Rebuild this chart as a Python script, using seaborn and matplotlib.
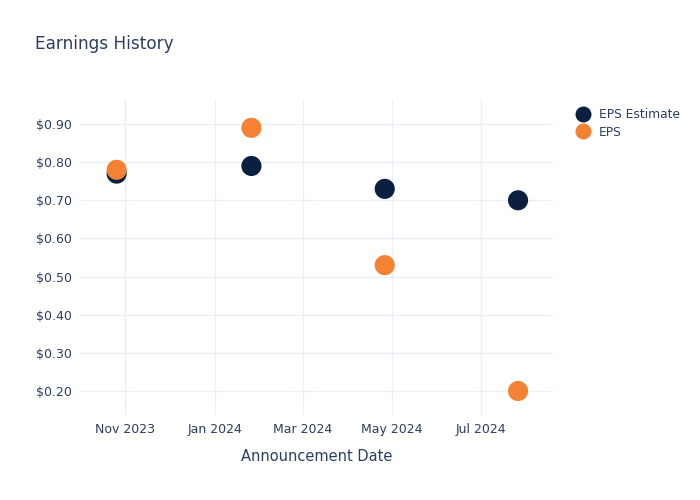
import matplotlib
matplotlib.use("Agg")
import matplotlib.pyplot as plt
import matplotlib.dates as mdates
from matplotlib.ticker import FuncFormatter
import seaborn as sns
import pandas as pd
import numpy as np

dates = ["2023-10-26", "2024-01-26", "2024-04-26", "2024-07-26"]
eps_estimate = [0.77, 0.79, 0.73, 0.70]
eps_actual = [0.78, 0.89, 0.53, 0.20]
series_names = ["EPS Estimate", "EPS"]
colors = ["#0b1f40", "#f58233"]
tick_dates = ["2023-11-01", "2024-01-01", "2024-03-01", "2024-05-01", "2024-07-01"]
y_ticks = [0.2, 0.3, 0.4, 0.5, 0.6, 0.7, 0.8, 0.9]

df = pd.DataFrame({
    "date": pd.to_datetime(dates * 2),
    "value": eps_estimate + eps_actual,
    "series": [series_names[0]] * 4 + [series_names[1]] * 4,
})

sns.set_theme(style="white")
plt.rcParams["font.family"] = ["DejaVu Sans"]
text_color = "#2a3f5f"
grid_color = "#ebf0f8"

fig = plt.figure(figsize=(7, 5), dpi=100)
ax = fig.add_axes([0.1143, 0.17, 0.676, 0.63])

sns.scatterplot(data=df, x="date", y="value", hue="series", hue_order=series_names,
                palette=colors, s=210, edgecolor="none", ax=ax, legend=False, zorder=3)

ax.set_xlim(pd.Timestamp("2023-10-01"), pd.Timestamp("2024-08-19"))
ax.set_ylim(0.137, 0.963)
ax.set_xticks(pd.to_datetime(tick_dates))
ax.xaxis.set_major_formatter(mdates.DateFormatter("%b %Y"))
ax.set_yticks(y_ticks)
ax.yaxis.set_major_formatter(FuncFormatter(lambda v, p: f"${v:.2f}"))
ax.grid(True, color=grid_color, linewidth=1)
ax.set_axisbelow(True)
for sp in ax.spines.values():
    sp.set_visible(False)
ax.tick_params(axis="both", length=0, labelsize=9, colors=text_color, pad=6)
ax.set_xlabel("Announcement Date", fontsize=10.5, color=text_color, labelpad=9)
ax.set_ylabel("")

fig.text(35 / 700, 1 - 44 / 500, "Earnings History", fontsize=12.2, color=text_color,
         ha="left", va="center")

handles = [plt.Line2D([], [], marker="o", linestyle="", markersize=11.5,
                      markerfacecolor=c, markeredgecolor="none") for c in colors]
leg = fig.legend(handles, series_names, loc="upper left", bbox_to_anchor=(0.806, 0.805),
                 frameon=False, fontsize=8.8, labelcolor=text_color, handletextpad=0.75,
                 labelspacing=0.35, handlelength=1.2)

fig.savefig("out.png", dpi=100)
